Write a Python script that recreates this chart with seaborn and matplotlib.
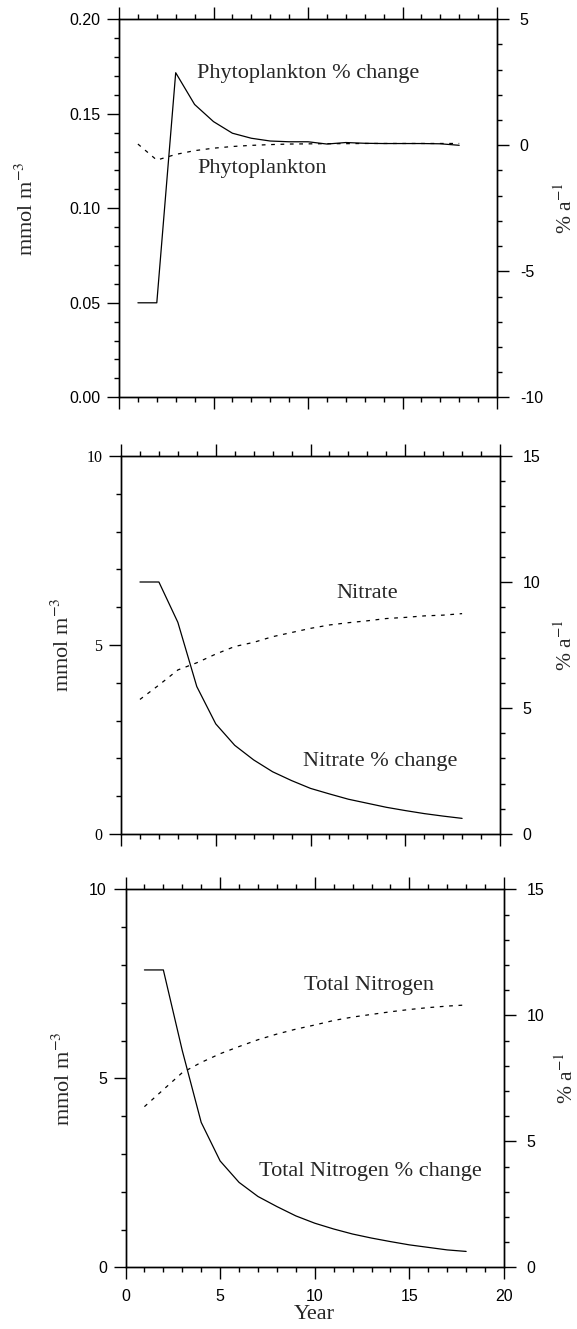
import matplotlib
matplotlib.use("Agg")
import matplotlib.pyplot as plt
import seaborn as sns
import pandas as pd
from matplotlib.ticker import MultipleLocator, FormatStrFormatter

# ---------------- data ----------------
years = list(range(1, 19))

phyto = [0.134, 0.1255, 0.1285, 0.1305, 0.1318, 0.1327, 0.1333, 0.1337, 0.1340,
         0.1341, 0.1342, 0.1342, 0.1343, 0.1343, 0.1343, 0.1343, 0.1343, 0.1343]
phyto_pct = [-6.25, -6.25, 2.88, 1.62, 0.94, 0.48, 0.28, 0.17, 0.14,
             0.14, 0.05, 0.11, 0.08, 0.07, 0.07, 0.07, 0.06, 0.0]

nitrate = [3.56, 3.94, 4.34, 4.53, 4.76, 4.96, 5.07, 5.22, 5.33,
           5.44, 5.53, 5.59, 5.64, 5.70, 5.73, 5.77, 5.79, 5.83]
nitrate_pct = [10.0, 10.0, 8.4, 5.85, 4.37, 3.52, 2.94, 2.47, 2.12,
               1.81, 1.59, 1.38, 1.22, 1.06, 0.93, 0.81, 0.71, 0.62]

tn = [4.25, 4.70, 5.15, 5.42, 5.65, 5.84, 6.02, 6.17, 6.30,
      6.41, 6.53, 6.62, 6.69, 6.76, 6.82, 6.87, 6.91, 6.94]
tn_pct = [11.8, 11.8, 8.6, 5.75, 4.22, 3.37, 2.81, 2.41, 2.04,
          1.75, 1.52, 1.32, 1.16, 1.02, 0.89, 0.79, 0.69, 0.63]

conc_names = ["Phytoplankton", "Nitrate", "Total Nitrogen"]
pct_names = ["Phytoplankton % change", "Nitrate % change", "Total Nitrogen % change"]
left_label = "mmol m$^{\\mathrm{-3}}$"
right_label = "% a$^{\\mathrm{-1}}$"
x_label = "Year"

# ---------------- style ----------------
sns.set_theme(style="ticks")
plt.rcParams.update({
    "font.family": ["Liberation Sans", "DejaVu Sans"],
    "axes.unicode_minus": False,
    "mathtext.fontset": "stix",
    "axes.linewidth": 1.0,
    "axes.edgecolor": "black",
    "xtick.color": "black",
    "ytick.color": "black",
    "xtick.major.size": 8.4,
    "ytick.major.size": 8.4,
    "xtick.minor.size": 3.6,
    "ytick.minor.size": 3.6,
    "xtick.major.width": 1.0,
    "ytick.major.width": 1.0,
    "xtick.minor.width": 1.0,
    "ytick.minor.width": 1.0,
    "xtick.labelsize": 11.5,
    "ytick.labelsize": 11.5,
})

SERIF = "Liberation Serif"
W, H = 577, 1329
fig = plt.figure(figsize=(W / 100, H / 100), dpi=100)
fig.patch.set_facecolor("white")

panels = [
    dict(conc=phyto, pct=phyto_pct, box=(119, 19.3, 378, 378),
         ylim=(0, 0.20), ymaj=0.05, ymin=0.01, yfmt="%.2f", ylfont="Liberation Sans",
         rlim=(-10, 5), lbl_x=-0.214, rlbl_x=1.152,
         conc_txt=(4.14, 0.1185), pct_txt=(4.11, 0.1688)),
    dict(conc=nitrate, pct=nitrate_pct, box=(121, 456, 379, 378),
         ylim=(0, 10), ymaj=5, ymin=1, yfmt="%d", ylfont=SERIF,
         rlim=(0, 15), lbl_x=-0.125, rlbl_x=1.143,
         conc_txt=(11.35, 6.24), pct_txt=(9.62, 1.80)),
    dict(conc=tn, pct=tn_pct, box=(125.5, 889.3, 378.5, 378),
         ylim=(0, 10), ymaj=5, ymin=1, yfmt="%d", ylfont="Liberation Sans",
         rlim=(0, 15), lbl_x=-0.133, rlbl_x=1.137,
         conc_txt=(9.41, 7.34), pct_txt=(7.03, 2.42)),
]

for i, p in enumerate(panels):
    l, t, w, h = p["box"]
    ax = fig.add_axes([l / W, (H - t - h) / H, w / W, h / H])
    df = pd.DataFrame({"Year": years, "conc": p["conc"], "pct": p["pct"]})

    sns.lineplot(data=df, x="Year", y="conc", ax=ax, color="black",
                 linewidth=0.9, linestyle=(0, (3, 4.5)))
    ax2 = ax.twinx()
    sns.lineplot(data=df, x="Year", y="pct", ax=ax2, color="black", linewidth=0.9)

    ax.set_xlim(0, 20)
    ax.set_ylim(*p["ylim"])
    ax2.set_ylim(*p["rlim"])

    ax.xaxis.set_major_locator(MultipleLocator(5))
    ax.xaxis.set_minor_locator(MultipleLocator(1))
    ax.yaxis.set_major_locator(MultipleLocator(p["ymaj"]))
    ax.yaxis.set_minor_locator(MultipleLocator(p["ymin"]))
    ax.yaxis.set_major_formatter(FormatStrFormatter(p["yfmt"]))
    ax2.yaxis.set_major_locator(MultipleLocator(5))
    ax2.yaxis.set_minor_locator(MultipleLocator(1))
    ax2.yaxis.set_major_formatter(FormatStrFormatter("%d"))

    ax.tick_params(axis="x", which="both", direction="out", top=True, bottom=True,
                   labelbottom=(i == 2), labeltop=False, pad=7.5)
    ax.tick_params(axis="y", which="both", direction="out", left=True, right=False,
                   pad=5, labelfontfamily=p["ylfont"])
    ax2.tick_params(axis="y", which="both", direction="out", right=True, left=False,
                    pad=8, labelfontfamily="Liberation Sans")

    for a in (ax, ax2):
        for s in a.spines.values():
            s.set_visible(True)
            s.set_color("black")
            s.set_linewidth(1.0)

    ax.set_ylabel(left_label, fontfamily=SERIF, fontsize=16)
    ax.yaxis.set_label_coords(p["lbl_x"], 0.5)
    ax2.set_ylabel(right_label, fontfamily=SERIF, fontsize=15.5)
    ax2.yaxis.set_label_coords(p["rlbl_x"], 0.5)

    if i == 2:
        ax.set_xlabel(x_label, fontfamily=SERIF, fontsize=16, labelpad=0.5)
    else:
        ax.set_xlabel("")

    ax.text(*p["conc_txt"], conc_names[i], fontfamily=SERIF, fontsize=16, va="baseline")
    ax.text(*p["pct_txt"], pct_names[i], fontfamily=SERIF, fontsize=16, va="baseline")

fig.savefig("out.png", dpi=100, facecolor="white")
